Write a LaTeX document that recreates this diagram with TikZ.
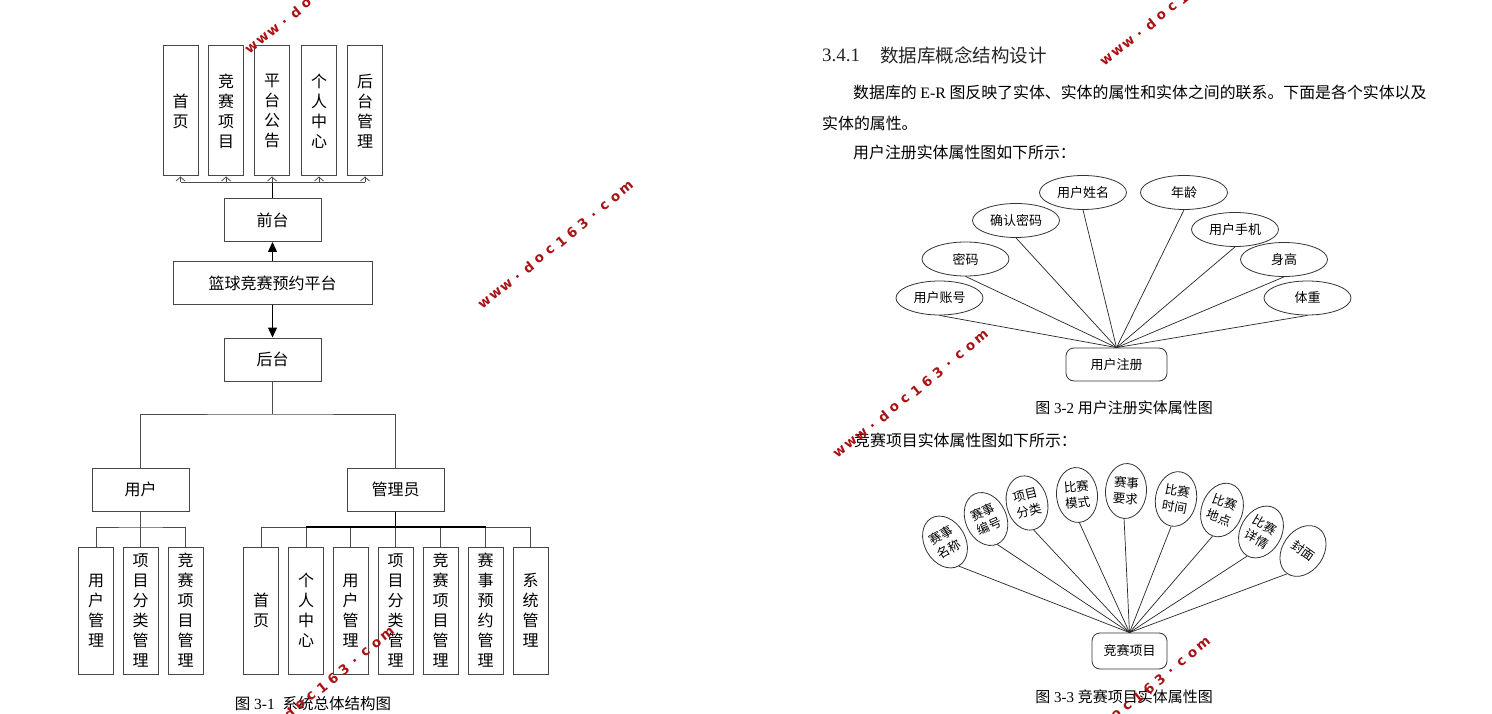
\documentclass[tikz,border=0pt]{standalone}
\usepackage{fontspec}
\setmainfont{Liberation Serif}
\newfontfamily\cjk{Noto Sans CJK SC}
\newfontfamily\wmfont{DejaVu Sans}
\usepackage{xcolor}
\usepackage{tikz}
\usetikzlibrary{shapes.geometric, arrows.meta}
\definecolor{wmred}{RGB}{170,18,22}
\definecolor{boxline}{RGB}{70,70,70}
\tikzstyle{hbox} = [draw=boxline, line width=1pt, fill=white, minimum width=97pt, minimum height=43pt, inner sep=0pt, font=\cjk\fontsize{16}{20}\selectfont]
\tikzstyle{vbox} = [hbox, minimum width=35pt, minimum height=127pt, align=center]
\tikzstyle{link} = [draw=black!70, line width=0.8pt]
\tikzstyle{bold link} = [draw=black, line width=1.8pt]
\tikzstyle{arrow} = [line width=1.4pt, -{Triangle[length=10pt,width=9pt]}]
\tikzstyle{tip} = [link, -{Straight Barb[length=4pt,width=9pt]}]
\tikzstyle{er link} = [draw=black!85, line width=0.7pt]
\tikzstyle{attr} = [ellipse, draw=black!80, line width=0.8pt, fill=white, minimum width=87pt, minimum height=34pt, inner sep=0pt, font=\cjk\fontsize{13}{15}\selectfont]
\tikzstyle{fan attr} = [attr, minimum width=41pt, minimum height=55pt, align=center, font=\cjk\fontsize{12.5}{16}\selectfont]
\tikzstyle{entity} = [draw=black!80, line width=0.8pt, rounded corners=8pt, fill=white, inner sep=0pt, font=\cjk\fontsize{13}{15}\selectfont]
\tikzstyle{para} = [anchor=west, inner sep=0pt, font=\cjk\fontsize{15.9}{20}\selectfont]
\tikzstyle{caption} = [inner sep=0pt, font=\fontsize{15.5}{18}\selectfont]
\tikzstyle{wmchar} = [text=wmred, inner sep=0pt, rotate=39, font=\wmfont\bfseries\fontsize{13.5}{13.5}\selectfont]
% red site stamp, one letter every 14pt
\newcommand{\wmark}[2]{%
  \begin{scope}[shift={#2}, rotate=39]
    \foreach \wc [count=\k] in {w,w,w,.,d,o,c,1,6,3,.,c,o,m}
      \node[wmchar] (#1-\k) at (\k*14-14,0) {\wc};
  \end{scope}}

\begin{document}
\begin{tikzpicture}[x=1pt, y=-1pt]
    \useasboundingbox (0,0) rectangle (1492,714);
    \fill[white] (0,0) rectangle (1492,714);
    \clip (0,0) rectangle (1492,714);
    % front pages
    \node[vbox, minimum height=130pt] (home) at (180.5,111) {首\\页};
    \node[vbox, minimum height=130pt] (match) at (226,111) {竞\\赛\\项\\目};
    \node[vbox, minimum height=130pt] (notice) at (272,111) {平\\台\\公\\告};
    \node[vbox, minimum height=130pt] (center) at (319,111) {个\\人\\中\\心};
    \node[vbox, minimum height=130pt] (backend) at (365,111) {后\\台\\管\\理};
    \node[hbox] (front) at (272.5,220) {前台};
    \node[hbox, minimum width=199pt, minimum height=42pt] (platform) at (272.5,283) {篮球竞赛预约平台};
    \node[hbox] (back) at (272.5,359.5) {后台};
    \node[hbox] (user) at (140.5,489.5) {用户};
    \node[hbox] (admin) at (395.5,489.5) {管理员};
    % user side
    \node[vbox] (umgr) at (96,610.5) {用\\户\\管\\理};
    \node[vbox] (ucat) at (140.5,610.5) {项\\目\\分\\类\\管\\理};
    \node[vbox] (umatch) at (185.5,610.5) {竞\\赛\\项\\目\\管\\理};
    % admin side
    \node[vbox] (a1) at (261,610.5) {首\\页};
    \node[vbox] (a2) at (306,610.5) {个\\人\\中\\心};
    \node[vbox] (a3) at (350.5,610.5) {用\\户\\管\\理};
    \node[vbox] (a4) at (395.5,610.5) {项\\目\\分\\类\\管\\理};
    \node[vbox] (a5) at (440.5,610.5) {竞\\赛\\项\\目\\管\\理};
    \node[vbox] (a6) at (485.5,610.5) {赛\\事\\预\\约\\管\\理};
    \node[vbox] (a7) at (530.5,610.5) {系\\统\\管\\理};
    \node[caption] (cap1) at (313,704) {{\cjk 图} 3-1\ \ {\cjk 系统总体结构图}};
    % tree links
    \coordinate (fbus) at (272.5,182);
    \draw[bold link] (front.north) -- (fbus);
    \draw[link] (home.south |- fbus) -- (backend.south |- fbus);
    \foreach \n in {home,match,notice,center,backend}
        \draw[tip] (\n.south |- fbus) -- (\n.south);
    \draw[arrow] (platform.north) -- (front.south);
    \draw[arrow] (platform.south) -- (back.north);
    \coordinate (bbus) at (272.5,414);
    \draw[link] (back.south) -- (bbus);
    \draw[link] (user.north) |- (bbus) -| (admin.north);
    \coordinate (ubus) at (140.5,527);
    \draw[link] (user.south) -- (ucat.north);
    \draw[link] (umgr.north) |- (ubus) -| (umatch.north);
    \coordinate (abus) at (395.5,527);
    \draw[link] (a1.north) |- (abus) -| (a7.north);
    \foreach \n in {a2,a3,a4,a5,a6}
        \draw[link] (\n.north) -- (\n.north |- abus);
    \draw[bold link] (a2.north |- abus) -- (a6.north |- abus);
    \draw[bold link] (admin.south) -- (abus);

    % text on the right page
    \node[anchor=west, inner sep=0pt, text=black!85, font=\fontsize{19}{22}\selectfont] (secno) at (822,55) {3.4.1};
    \node[anchor=west, inner sep=0pt, text=black!85, font=\cjk\fontsize{18.5}{22}\selectfont] (sectitle) at (880,55) {数据库概念结构设计};
    \node[para] (line1) at (853,92) {数据库的 {\rmfamily E-R} 图反映了实体、实体的属性和实体之间的联系。下面是各个实体以及};
    \node[para] (line2) at (822,123) {实体的属性。};
    \node[para] (line3) at (853,152) {用户注册实体属性图如下所示：};
    \node[para] (line4) at (854,440) {竞赛项目实体属性图如下所示：};

    % user register entity
    \node[entity, minimum width=101pt, minimum height=33pt] (reg) at (1116.5,364.5) {用户注册};
    \node[attr] (acct) at (939.5,298) {用户账号};
    \node[attr] (pwd) at (965.5,259) {密码};
    \node[attr] (pwd2) at (1016,220.5) {确认密码};
    \node[attr] (uname) at (1083,192.5) {用户姓名};
    \node[attr] (age) at (1184,192.5) {年龄};
    \node[attr] (phone) at (1235,229.5) {用户手机};
    \node[attr] (tall) at (1284,259.5) {身高};
    \node[attr] (weight) at (1307.5,298) {体重};
    \foreach \n in {acct,pwd,pwd2,uname,age,phone,tall,weight}
        \draw[er link] (\n.south) -- (reg.north);
    \node[caption, font=\fontsize{15}{18}\selectfont] (cap2) at (1124,408) {{\cjk 图} 3-2 {\cjk 用户注册实体属性图}};

    % match item entity
    \node[entity, minimum width=75pt, minimum height=36pt] (item) at (1129.5,651) {竞赛项目};
    \node[fan attr, rotate=30] (ename) at (945,542) {赛事\\名称};
    \node[fan attr, rotate=24] (eno) at (986,519) {赛事\\编号};
    \node[fan attr, rotate=14] (ecat) at (1027,503) {项目\\分类};
    \node[fan attr, rotate=5] (emode) at (1077,495) {比赛\\模式};
    \node[fan attr, rotate=-4] (ereq) at (1126,491) {赛事\\要求};
    \node[fan attr, rotate=-10] (etime) at (1176,499) {比赛\\时间};
    \node[fan attr, rotate=-20] (eplace) at (1222,510) {比赛\\地点};
    \node[fan attr, rotate=-30] (edetail) at (1261,532) {比赛\\详情};
    \node[fan attr, rotate=-35] (ecover) at (1303,551) {封面};
    \foreach \n in {ename,eno,ecat,emode,ereq,etime,eplace,edetail,ecover}
        \draw[er link] (\n.south) -- (item.north);
    \node[caption, font=\fontsize{15}{18}\selectfont] (cap3) at (1124,697) {{\cjk 图} 3-3 {\cjk 竞赛项目实体属性图}};

    % stamps
    \wmark{wmA}{(252,48)}
    \wmark{wmB}{(485,303)}
    \wmark{wmC}{(840,452)}
    \wmark{wmD}{(1107,60)}
    \wmark{wmE}{(246,749)}
    \wmark{wmF}{(1062,759)}
\end{tikzpicture}
\end{document}
